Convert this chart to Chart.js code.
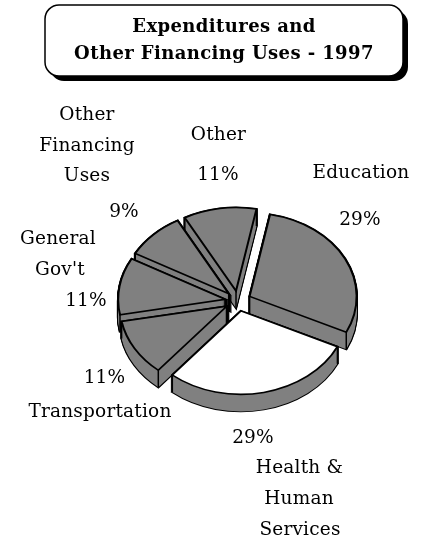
<!DOCTYPE html>
<html><head><meta charset="utf-8">
<style>html,body{margin:0;padding:0;background:#fff}canvas{display:block}</style>
<script src="https://cdn.jsdelivr.net/npm/chart.js@4"></script>
</head><body>
<canvas id="c" width="424" height="539"></canvas>
<script>
const categories = ["Education","Health & Human Services","Transportation","General Gov't","Other Financing Uses","Other"];
const percents = [29,29,11,11,9,11];
const titleLines = ["Expenditures and","Other Financing Uses - 1997"];
const sliceColors = ["#808080","#ffffff","#808080","#808080","#808080","#808080"];
const drawOrder = [5,4,3,2,0,1];
const labelLayout = [
 ["Other",87,120],["Financing",87,151],["Uses",87,181],
 ["Other",218.5,140],["11%",218,180],
 ["Education",361,178],["29%",360,225],
 ["9%",124,217],
 ["General",58,244],["Gov't",60,275],["11%",86,306],
 ["11%",104.5,383],["Transportation",100,417],
 ["29%",253,443],
 ["Health &",299.5,473],["Human",299,504],["Services",300,535]
];
const view = {cx:238, cy:301, squash:0.78, depth:17, explode:13, radius:107, rotation:11};
const FONT = '"DejaVu Serif", serif';

const pie3d = {
  id:'pie3d',
  beforeDraw(chart){
    const c = chart.ctx;
    c.save();
    c.fillStyle='#fff'; c.fillRect(0,0,chart.width,chart.height);
    const box=(x,y,w,h,r)=>{c.beginPath();c.roundRect(x,y,w,h,r);};
    c.fillStyle='#000'; box(50,10,358,71,14); c.fill();
    c.fillStyle='#fff'; c.strokeStyle='#000'; c.lineWidth=1.5; box(45,5,358,71,14); c.fill(); c.stroke();
    c.restore();
    c.letterSpacing='0.4px';
  },
  beforeDatasetsDraw(chart){
    const c = chart.ctx, arcs = chart.getDatasetMeta(0).data;
    c.letterSpacing='0px';
    const s = view.squash, dz = view.depth/s;
    const withOpts=(el,o,fn)=>{const keep=el.options; el.options=Object.assign({},keep,o); fn(); el.options=keep;};
    for(const i of drawOrder){
      const el = arcs[i], mid=(el.startAngle+el.endAngle)/2;
      c.save();
      c.translate(view.cx,view.cy); c.scale(1,s); c.translate(-el.x,-el.y);
      c.translate(Math.cos(mid)*view.explode, Math.sin(mid)*view.explode);
      withOpts(el,{backgroundColor:'#000',borderColor:'#000',borderWidth:2.5},()=>{
        for(let d=view.depth;d>=0;d--){c.save();c.translate(0,d/s);el.draw(c);c.restore();}
      });
      withOpts(el,{backgroundColor:'#808080',borderColor:'#808080',borderWidth:0},()=>{
        for(let d=view.depth;d>=0;d--){c.save();c.translate(0,d/s);el.draw(c);c.restore();}
      });
      c.strokeStyle='#000'; c.lineWidth=1.5;
      const corners=[[el.x,el.y],
        [el.x+Math.cos(el.startAngle)*el.outerRadius, el.y+Math.sin(el.startAngle)*el.outerRadius],
        [el.x+Math.cos(el.endAngle)*el.outerRadius, el.y+Math.sin(el.endAngle)*el.outerRadius]];
      for(const [x,y] of corners){c.beginPath();c.moveTo(x,y);c.lineTo(x,y+dz);c.stroke();}
      el.draw(c);
      c.restore();
    }
    return false;
  },
  afterDraw(chart){
    const c = chart.ctx;
    c.save();
    c.letterSpacing='0.2px';
    c.fillStyle='#000'; c.font='18.5px '+FONT; c.textAlign='center'; c.textBaseline='alphabetic';
    for(const [t,x,y] of labelLayout) c.fillText(t,x,y);
    c.restore();
  }
};

new Chart(document.getElementById('c'),{
  type:'pie',
  data:{labels:categories,datasets:[{data:percents,backgroundColor:sliceColors,borderColor:'#000',borderWidth:2,borderJoinStyle:'miter'}]},
  plugins:[pie3d],
  options:{
    responsive:false,animation:false,
    rotation:view.rotation,radius:view.radius,
    layout:{padding:{left:24,top:14}},
    plugins:{
      legend:{display:false},tooltip:{enabled:false},
      title:{display:true,text:titleLines,color:'#000',align:'center',
        font:{family:FONT,weight:'bold',size:18,lineHeight:1.5},padding:{top:0,bottom:10}}
    }
  }
});
</script>
</body></html>
